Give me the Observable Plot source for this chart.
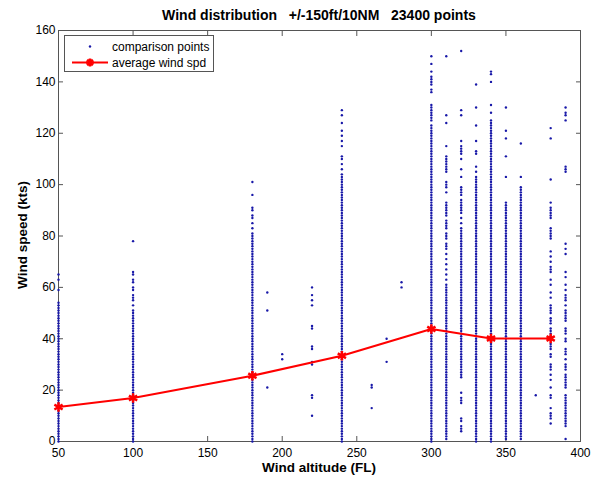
<!DOCTYPE html>
<html><head><meta charset="utf-8">
<script src="https://cdn.jsdelivr.net/npm/d3@7"></script>
<script src="https://cdn.jsdelivr.net/npm/@observablehq/plot@0.6"></script>
<style>
body{margin:0;background:#fff;}
#wrap{position:relative;width:600px;height:479px;font-family:"Liberation Sans",Arial,sans-serif;color:#000;}
#title{position:absolute;left:58px;width:522px;top:7px;text-align:center;font-weight:bold;font-size:14px;line-height:16px;white-space:pre;}
#xlabel{position:absolute;left:58px;width:522px;top:460px;text-align:center;font-weight:bold;font-size:13.5px;line-height:15px;}
#ylabel{position:absolute;left:22px;top:235px;transform:translate(-50%,-50%) rotate(-90deg);font-weight:bold;font-size:13.5px;line-height:15px;white-space:nowrap;}
#legend{position:absolute;left:64px;top:35px;width:148px;height:35px;border:1px solid #555;background:#fff;font-size:12px;line-height:14px;}
#legend span{position:absolute;left:47px;white-space:nowrap;}
#chart{position:absolute;left:0;top:0;}
</style></head>
<body>
<div id="wrap">
<div id="chart"></div>
<div id="title">Wind distribution   +/-150ft/10NM   23400 points</div>
<div id="xlabel">Wind altitude (FL)</div>
<div id="ylabel">Wind speed (kts)</div>
<div id="legend">
<svg width="148" height="35" style="position:absolute;left:0;top:0">
<circle cx="25" cy="10.5" r="1.2" fill="#1818a8"/>
<line x1="7" x2="43" y1="26.5" y2="26.5" stroke="#f00" stroke-width="2"/>
<g stroke="#f00" stroke-width="2.5"><line x1="21" x2="29" y1="26.5" y2="26.5"/><line x1="25" x2="25" y1="22.5" y2="30.5"/><line x1="22.2" x2="27.8" y1="23.7" y2="29.3"/><line x1="22.2" x2="27.8" y1="29.3" y2="23.7"/></g>
</svg>
<span style="top:4px">comparison points</span>
<span style="top:20px">average wind spd</span>
</div>
</div>
<script>
const xTicks = [50,100,150,200,250,300,350,400];
const yTicks = [0,20,40,60,80,100,120,140,160];

const avgAlt = [50,100,180,240,300,340,380];
const avgSpd = [13.4,16.9,25.6,33.4,43.8,40.1,40.1];

const spd50 = [0,1,2,3,4,5,6,7,8,9,10,11,12,13,14,15,16,17,18,19,20,21,22,23,24,25,26,27,28,29,30,31,32,33,34,35,36,37,38,39,40,41,42,43,44,45,46,47,48,49,50,51,52,53,54,59,63,65];
const spd100 = [0,1,2,3,4,5,6,7,8,9,10,11,12,13,14,15,16,17,18,19,20,21,22,23,24,25,26,27,28,29,30,31,32,33,34,35,36,37,38,39,40,41,42,43,44,45,46,47,48,49,50,51,53,55,56,57,59,60,62,63,65,66,78];
const spd180 = [0,1,2,3,4,5,6,7,8,9,10,11,12,13,14,15,16,17,18,19,20,21,22,23,24,25,26,27,28,29,30,31,32,33,34,35,36,37,38,39,40,41,42,43,44,45,46,47,48,49,50,51,52,53,54,55,56,57,58,59,60,61,62,63,64,65,66,67,68,69,70,71,72,73,74,75,76,77,78,79,80,81,83,85,87,88,90,91,96,101];
const spd190 = [21,51,58];
const spd200 = [32,34];
const spd220 = [10,17,18,30,31,36,37,44,45,53,55,57,60];
const spd240 = [0,1,2,3,4,5,6,7,8,9,10,11,12,13,14,15,16,17,18,19,20,21,22,23,24,25,26,27,28,29,30,31,32,33,34,35,36,37,38,39,40,41,42,43,44,45,46,47,48,49,50,51,52,53,54,55,56,57,58,59,60,61,62,63,64,65,66,67,68,69,70,71,72,73,74,75,76,77,78,79,80,81,82,83,84,85,86,87,88,89,90,91,92,93,94,95,96,97,98,99,100,101,102,103,104,106,108,110,111,115,117,119,121,124,127,129];
const spd260 = [13,21,22];
const spd270 = [31,40];
const spd280 = [60,62];
const spd300 = [0,1,2,3,4,5,6,7,8,9,10,11,12,13,14,15,16,17,18,19,20,21,22,23,24,25,26,27,28,29,30,31,32,33,34,35,36,37,38,39,40,41,42,43,44,45,46,47,48,49,50,51,52,53,54,55,56,57,58,59,60,61,62,63,64,65,66,67,68,69,70,71,72,73,74,75,76,77,78,79,80,81,82,83,84,85,86,87,88,89,90,91,92,93,94,95,96,97,98,99,100,101,102,103,104,105,106,107,108,109,110,111,112,113,114,115,116,117,118,119,120,121,122,123,125,126,127,128,129,130,131,136,137,139,140,141,142,144,147,150];
const spd310 = [1,2,3,4,5,6,7,8,9,10,11,12,13,14,15,16,17,18,19,20,21,22,23,24,25,26,27,28,29,30,31,32,33,34,35,36,37,38,39,40,41,42,43,44,45,46,47,48,49,50,51,52,53,54,55,56,57,58,59,60,61,63,65,67,69,71,73,75,76,77,79,80,81,83,84,85,86,88,89,90,91,92,93,97,99,100,101,105,106,107,108,109,110,111,115,124,127,150];
const spd320 = [4,5,6,8,9,15,16,17,19,25,26,27,28,29,30,31,32,33,34,35,36,37,38,39,40,41,42,43,44,45,46,47,48,49,50,51,52,53,54,55,56,57,58,59,60,61,62,63,64,65,66,67,68,69,70,71,72,73,74,75,76,77,78,79,80,81,82,83,85,87,89,90,91,92,93,94,96,97,98,99,103,106,110,112,113,114,115,117,127,129,152];
const spd330 = [0,1,2,3,4,5,6,7,8,9,10,11,12,13,14,15,16,17,18,19,20,21,22,23,24,25,26,27,28,29,30,31,32,33,34,35,36,37,38,39,40,41,42,43,44,45,46,47,48,49,50,51,52,53,54,55,56,57,58,59,60,61,62,63,64,65,66,67,68,69,70,71,72,73,74,75,76,77,78,79,80,81,82,83,84,85,86,87,88,89,90,91,92,93,94,95,96,97,98,99,100,101,102,103,105,107,112,113,117,123,130,139];
const spd340 = [0,1,2,3,4,5,6,7,8,9,10,11,12,13,14,15,16,17,18,19,20,21,22,23,24,25,26,27,28,29,30,31,32,33,34,35,36,37,38,39,40,41,42,43,44,45,46,47,48,49,50,51,52,53,54,55,56,57,58,59,60,61,62,63,64,65,66,67,68,69,70,71,72,73,74,75,76,77,78,79,80,81,82,83,84,85,86,87,88,89,90,91,92,93,94,95,96,97,98,99,100,101,102,103,104,105,106,107,108,109,110,111,112,113,114,115,116,117,118,119,120,121,122,123,124,125,128,131,140,143,144];
const spd350 = [1,2,3,4,5,6,7,8,9,10,11,12,13,14,15,16,17,18,19,20,21,22,23,24,25,26,27,28,29,30,31,32,33,34,35,36,37,38,39,40,41,42,43,44,45,46,47,48,49,50,51,52,53,54,55,56,57,58,59,60,61,62,63,64,65,66,67,68,69,70,71,72,73,74,75,76,77,78,79,80,81,82,83,84,85,86,87,88,89,90,91,92,93,103,111,118,121,130];
const spd360 = [1,2,3,4,5,6,7,8,9,10,11,12,13,14,15,16,17,18,19,20,21,22,23,24,25,26,27,28,29,30,31,32,33,34,35,36,37,38,39,40,41,42,43,44,45,46,47,48,49,50,51,52,53,54,55,56,57,58,59,60,61,62,63,64,65,66,67,68,69,70,71,72,73,74,75,76,77,78,79,80,81,82,83,84,85,86,87,88,89,90,91,92,93,94,95,96,97,98,99,103,116];
const spd370 = [18];
const spd380 = [7,9,10,11,13,17,18,21,24,26,28,29,30,33,34,36,37,38,40,41,42,43,44,46,47,48,50,51,52,53,56,58,61,63,66,67,68,70,72,74,79,80,81,82,83,87,88,89,90,91,93,102,118,122];
const spd390 = [1,6,7,8,9,10,11,12,13,14,15,16,17,18,21,22,23,24,25,26,28,29,30,32,34,35,36,39,40,42,43,44,47,48,49,50,51,53,55,56,57,59,61,64,66,73,75,77,105,106,107,125,127,128,130];

const columns = [
  [50,spd50],[100,spd100],[180,spd180],[190,spd190],[200,spd200],[220,spd220],
  [240,spd240],[260,spd260],[270,spd270],[280,spd280],[300,spd300],[310,spd310],
  [320,spd320],[330,spd330],[340,spd340],[350,spd350],[360,spd360],[370,spd370],
  [380,spd380],[390,spd390]
];

const points = columns.flatMap(([alt, arr]) => arr.map(s => ({alt, s})));
const avg = avgAlt.map((a, i) => ({alt: a, s: avgSpd[i]}));

const frameColor = "#555";
const chart = Plot.plot({
  width: 600, height: 479,
  marginLeft: 58, marginRight: 20, marginTop: 30, marginBottom: 38,
  style: {fontFamily: '"Liberation Sans", Arial, sans-serif', fontSize: "12px", color: "#000", background: "#fff"},
  x: {domain: [50, 400]},
  y: {domain: [0, 160]},
  marks: [
    Plot.frame({stroke: frameColor}),
    Plot.axisX({anchor: "bottom", ticks: xTicks, tickSize: -5, tickPadding: 12, label: null, stroke: frameColor}),
    Plot.axisX({anchor: "top", ticks: xTicks, tickSize: -5, tickFormat: () => "", label: null, stroke: frameColor}),
    Plot.axisY({anchor: "left", ticks: yTicks, tickSize: -5, tickPadding: 8, label: null, stroke: frameColor}),
    Plot.axisY({anchor: "right", ticks: yTicks, tickSize: -5, tickFormat: () => "", label: null, stroke: frameColor}),
    Plot.dot(points, {x: "alt", y: "s", r: 1.2, fill: "#1818a8"}),
    Plot.line(avg, {x: "alt", y: "s", stroke: "#f00", strokeWidth: 2}),
    Plot.dot(avg, {x: "alt", y: "s", symbol: "asterisk", r: 4.5, stroke: "#f00", strokeWidth: 2.5})
  ]
});
document.getElementById("chart").appendChild(chart);
</script>
</body></html>
